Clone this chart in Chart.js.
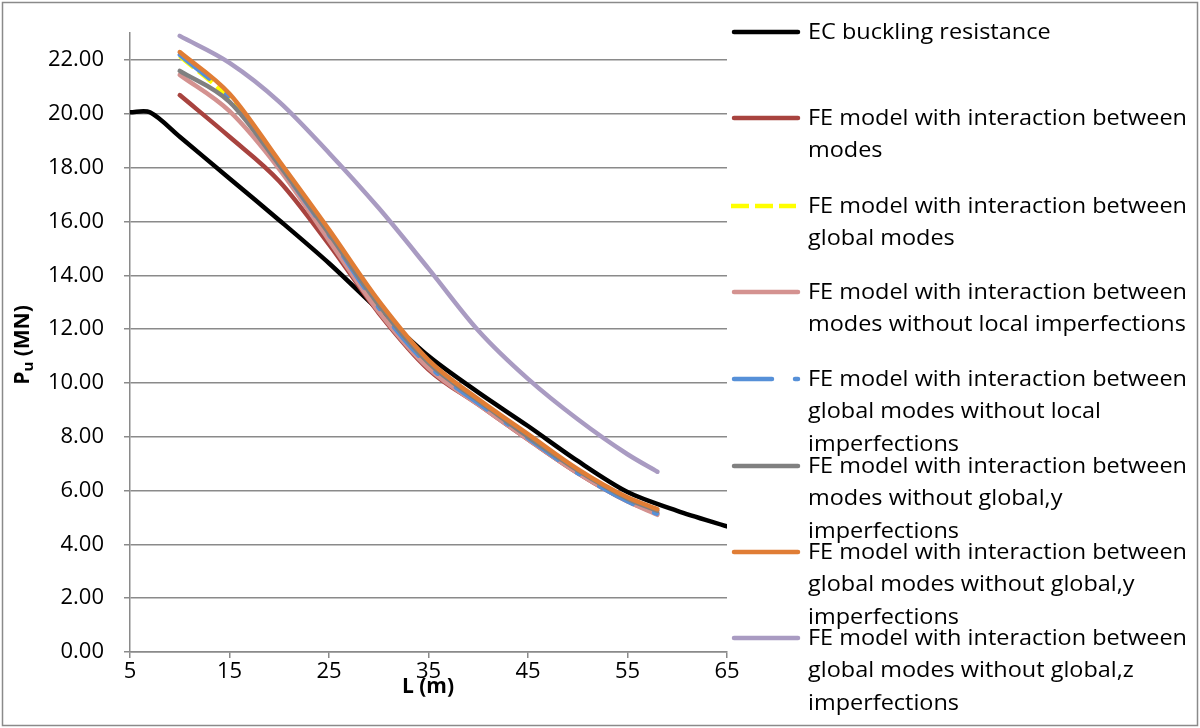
<!DOCTYPE html>
<html><head><meta charset="utf-8">
<script src="https://cdn.jsdelivr.net/npm/chart.js@4.4.1/dist/chart.umd.min.js"></script>
<style>html,body{margin:0;padding:0;background:#fff;}#wrap{position:relative;width:1200px;height:728px;}canvas{display:block;}</style>
</head><body><div id="wrap"><canvas id="c"></canvas></div>
<script>
// ---- data ----
const ecLengths = [5, 7, 10, 15, 20, 25, 30, 35, 40, 45, 50, 55, 60, 65];
const ecResistance = [20.06, 20.06, 19.15, 17.6, 16.05, 14.45, 12.7, 11.0, 9.65, 8.4, 7.1, 5.95, 5.25, 4.67];
const feLengths = [10, 15, 20, 25, 30, 35, 40, 45, 50, 55, 58];
const feModes = [20.7, 19.15, 17.5, 15.15, 12.6, 10.5, 9.2, 7.9, 6.65, 5.6, 5.15];
const feGlobalModes = [22.15, 20.55, 18.1, 15.5, 12.85, 10.7, 9.3, 7.98, 6.7, 5.65, 5.2];
const feModesNoLocal = [21.45, 20.1, 17.95, 15.3, 12.65, 10.55, 9.2, 7.9, 6.65, 5.6, 5.1];
const feGlobalNoLocal = [22.2, 20.6, 18.1, 15.5, 12.8, 10.65, 9.25, 7.95, 6.65, 5.6, 5.13];
const feModesNoGlobalY = [21.6, 20.45, 18.1, 15.55, 12.9, 10.75, 9.35, 8.0, 6.75, 5.7, 5.25];
const feGlobalNoGlobalY = [22.3, 20.75, 18.25, 15.7, 13.05, 10.85, 9.4, 8.1, 6.8, 5.75, 5.31];
const feGlobalNoGlobalZ = [22.9, 21.9, 20.45, 18.55, 16.5, 14.25, 11.95, 10.15, 8.65, 7.35, 6.7];
const seriesLabels = [
  'EC buckling resistance',
  'FE model with interaction between\nmodes',
  'FE model with interaction between\nglobal modes',
  'FE model with interaction between\nmodes without local imperfections',
  'FE model with interaction between\nglobal modes without local\nimperfections',
  'FE model with interaction between\nmodes without global,y\nimperfections',
  'FE model with interaction between\nglobal modes without global,y\nimperfections',
  'FE model with interaction between\nglobal modes without global,z\nimperfections'
];
const xTicks = [5, 15, 25, 35, 45, 55, 65];
const yTicks = [0, 2, 4, 6, 8, 10, 12, 14, 16, 18, 20, 22];

const FONT = '"Open Sans"';
const pts = (xs, ys) => xs.map((x, i) => ({x: x, y: ys[i]}));
const seriesValues = [ecResistance, feModes, feGlobalModes, feModesNoLocal, feGlobalNoLocal, feModesNoGlobalY, feGlobalNoGlobalY, feGlobalNoGlobalZ];
const styles = [
  {c: '#000000', dash: [], cap: 'round'},
  {c: '#A8433F', dash: [], cap: 'round'},
  {c: '#FFFF00', dash: [18, 6], cap: 'butt'},
  {c: '#D49290', dash: [], cap: 'round'},
  {c: '#5690D8', dash: [38, 23, 3, 23], cap: 'round'},
  {c: '#808080', dash: [], cap: 'round'},
  {c: '#E07D35', dash: [], cap: 'round'},
  {c: '#A99BC2', dash: [], cap: 'round'}
];
const datasets = seriesValues.map((vals, i) => ({
  label: seriesLabels[i],
  data: pts(i === 0 ? ecLengths : feLengths, vals),
  borderColor: styles[i].c,
  backgroundColor: styles[i].c,
  borderWidth: 4.5,
  borderDash: styles[i].dash,
  borderCapStyle: styles[i].cap,
  borderJoinStyle: 'round',
  pointRadius: 0,
  cubicInterpolationMode: i === 0 ? 'default' : 'monotone',
  tension: i === 0 ? 0.3 : 0.4,
  fill: false,
  order: 7 - i
}));

const legendY = [32, 118, 206, 292, 379, 466, 552, 638];
const decor = {
  id: 'decor',
  afterDraw(chart) {
    const ctx = chart.ctx;
    ctx.save();
    ctx.strokeStyle = '#8a8a8a'; ctx.lineWidth = 1.5; ctx.setLineDash([]);
    ctx.strokeRect(2.5, 2.5, 1195, 723);
    // legend
    ctx.textBaseline = 'middle'; ctx.textAlign = 'left'; ctx.fillStyle = '#000';
    ctx.font = '21px ' + FONT;
    const sx = 379 / ctx.measureText('FE model with interaction between').width;
    chart.data.datasets.forEach((ds, i) => {
      const y = legendY[i];
      ctx.beginPath();
      ctx.strokeStyle = ds.borderColor; ctx.lineWidth = ds.borderWidth;
      ctx.setLineDash(ds.borderDash); ctx.lineCap = ds.borderCapStyle;
      ctx.moveTo(i === 2 ? 731 : 734, y); ctx.lineTo(i === 2 ? 796 : 798, y); ctx.stroke();
      ctx.setLineDash([]);
      ctx.fillStyle = '#000';
      ds.label.split('\n').forEach((t, k) => {
        ctx.save(); ctx.translate(808, y + 1 + k * 32.5); ctx.scale(sx, 1);
        ctx.fillText(t, 0, 0); ctx.restore();
      });
    });
    // x title
    ctx.font = 'bold 21px ' + FONT; ctx.textAlign = 'center';
    ctx.fillText('L (m)', 428, 687);
    // y title with subscript
    ctx.translate(23, 345); ctx.rotate(-Math.PI / 2);
    ctx.textAlign = 'left';
    ctx.font = 'bold 21px ' + FONT; const wP = ctx.measureText('P').width; const wR = ctx.measureText(' (MN)').width;
    ctx.font = 'bold 15px ' + FONT; const wu = ctx.measureText('u').width;
    let x0 = -(wP + wu + wR) / 2;
    ctx.font = 'bold 21px ' + FONT; ctx.fillText('P', x0, 0);
    ctx.font = 'bold 15px ' + FONT; ctx.fillText('u', x0 + wP, 6);
    ctx.font = 'bold 21px ' + FONT; ctx.fillText(' (MN)', x0 + wP + wu, 0);
    ctx.restore();
  }
};

new Chart(document.getElementById('c'), {
  type: 'line',
  data: {datasets: datasets},
  options: {
    responsive: true, maintainAspectRatio: false, animation: false,
    layout: {padding: {left: 0, top: 30, right: 473, bottom: 0}},
    plugins: {legend: {display: false}, tooltip: {enabled: false}},
    scales: {
      x: {
        type: 'linear', min: 5, max: 65,
        afterFit: s => { s.height = 76; },
        afterBuildTicks: s => { s.ticks = xTicks.map(v => ({value: v})); },
        grid: {drawOnChartArea: false, drawTicks: true, tickLength: 6, color: '#8a8a8a', lineWidth: 1.5},
        border: {display: true, color: '#8a8a8a', width: 1.5},
        ticks: {font: {family: FONT, size: 22}, color: '#000', padding: 1, maxRotation: 0, autoSkip: false}
      },
      y: {
        type: 'linear', min: 0, max: 23,
        afterFit: s => { s.width = 130; },
        afterBuildTicks: s => { s.ticks = yTicks.map(v => ({value: v})); },
        grid: {drawOnChartArea: true, drawTicks: true, tickLength: 6, color: '#8a8a8a', lineWidth: 1.5},
        border: {display: true, color: '#8a8a8a', width: 1.5},
        ticks: {font: {family: FONT, size: 22}, color: '#000', padding: 20, autoSkip: false, callback: v => Number(v).toFixed(2)}
      }
    }
  },
  plugins: [decor]
});
</script></body></html>
